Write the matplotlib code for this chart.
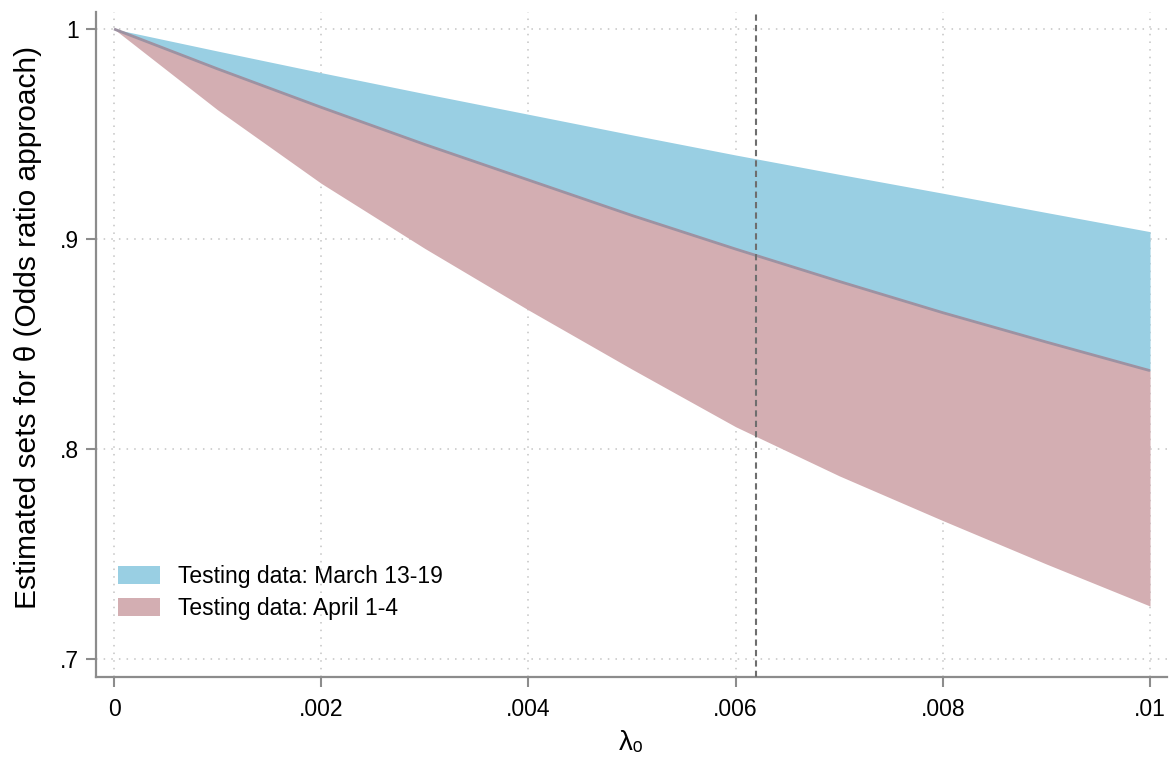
import numpy as np
import matplotlib.pyplot as plt
from matplotlib.patches import Patch

plt.rcParams['font.family'] = ['Liberation Sans', 'DejaVu Sans']

# lambda_0 grid and the bounds of the two estimated sets
lam = [0.0, 0.001, 0.002, 0.003, 0.004, 0.005, 0.006, 0.007, 0.008, 0.009, 0.010]
march_upper = [1.0, 0.9895, 0.9792, 0.9692, 0.9594, 0.9496, 0.9400, 0.9308, 0.9218, 0.9126, 0.9035]
shared_bound = [1.0, 0.9810, 0.9627, 0.9450, 0.9281, 0.9112, 0.8952, 0.8798, 0.8649, 0.8509, 0.8373]
april_lower = [1.0, 0.9615, 0.9265, 0.8955, 0.8662, 0.8380, 0.8106, 0.7872, 0.7659, 0.7452, 0.7252]

lambda_star = 0.0062

xticks = [0, 0.002, 0.004, 0.006, 0.008, 0.010]
xtick_labels = ['0', '.002', '.004', '.006', '.008', '.01']
yticks = [0.7, 0.8, 0.9, 1.0]
ytick_labels = ['.7', '.8', '.9', '1']

labels = ['Testing data: March 13-19', 'Testing data: April 1-4']
blue = '#99cfe3'
red = '#d3aeb2'

fig = plt.figure(figsize=(11.69, 7.57), dpi=100)
ax = fig.add_axes([96 / 1169, 80 / 757, (1167 - 96) / 1169, 665 / 757])

ax.fill_between(lam, april_lower, shared_bound, color=red, lw=0, zorder=2)
ax.fill_between(lam, shared_bound, march_upper, color=blue, lw=0, zorder=2)
ax.plot(lam, shared_bound, color='#9d92a2', lw=2.0, zorder=3, solid_capstyle='butt')

ax.axvline(lambda_star, color='#6e6e6e', lw=1.5, ls=(0, (3, 2)), zorder=4)

ax.set_xlim(-0.000174, 0.010164)
ax.set_ylim(0.6914, 1.0081)

ax.set_xticks(xticks)
ax.set_xticklabels(xtick_labels)
ax.set_yticks(yticks)
ax.set_yticklabels(ytick_labels)

ax.grid(True, color='#c4c4c4', lw=1.1, ls=(0, (1, 4)), zorder=1)
ax.set_axisbelow(True)

for s in ['top', 'right']:
    ax.spines[s].set_visible(False)
for s in ['left', 'bottom']:
    ax.spines[s].set_color('#8c8c8c')
    ax.spines[s].set_linewidth(1.6)

ax.tick_params(axis='both', length=7, width=1.5, color='#8c8c8c', labelsize=16.5)
ax.tick_params(axis='x', pad=8)
ax.tick_params(axis='y', pad=5)

ax.set_xlabel('λ₀', fontsize=20)
ax.xaxis.set_label_coords(0.5, -0.08)
ax.set_ylabel('Estimated sets for θ (Odds ratio approach)', fontsize=21.5)
ax.yaxis.set_label_coords(-0.05, 0.526)

handles = [Patch(facecolor=blue, edgecolor='none'), Patch(facecolor=red, edgecolor='none')]
ax.legend(handles, labels, loc='upper left', bbox_to_anchor=(0.0205, 0.1684),
          frameon=False, fontsize=16.5, borderpad=0, borderaxespad=0,
          handlelength=1.85, handleheight=0.8, handletextpad=0.75, labelspacing=0.4)

fig.savefig('out.png', dpi=100)
